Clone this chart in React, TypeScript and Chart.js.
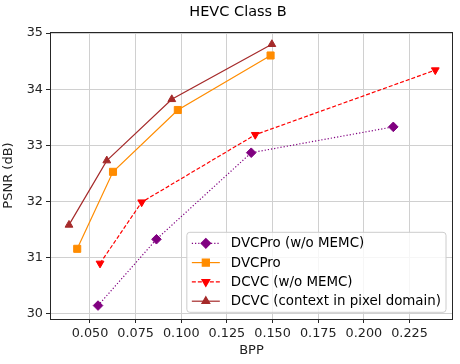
import React, { useEffect, useRef } from "react";
import { Chart, registerables } from "chart.js";
import { drawPoint } from "chart.js/helpers";

Chart.register(...registerables);

const chartTitle = "HEVC Class B";
const xLabel = "BPP";
const yLabel = "PSNR (dB)";
const xTicks = [0.05, 0.075, 0.1, 0.125, 0.15, 0.175, 0.2, 0.225];
const yTicks = [30, 31, 32, 33, 34, 35];

const seriesNames = [
  "DVCPro (w/o MEMC)",
  "DVCPro",
  "DCVC (w/o MEMC)",
  "DCVC (context in pixel domain)",
];

const dvcProNoMemcBpp = [0.0544, 0.0864, 0.1383, 0.2161];
const dvcProNoMemcPsnr = [30.15, 31.33, 32.87, 33.33];

const dvcProBpp = [0.043, 0.0626, 0.0981, 0.1489];
const dvcProPsnr = [31.16, 32.53, 33.63, 34.6];

const dcvcNoMemcBpp = [0.0555, 0.0783, 0.1405, 0.2391];
const dcvcNoMemcPsnr = [30.9, 31.99, 33.19, 34.34];

const dcvcPixelBpp = [0.0385, 0.0592, 0.0948, 0.1496];
const dcvcPixelPsnr = [31.585, 32.73, 33.82, 34.8];

const FONT = "'DejaVu Sans', sans-serif";

const styles = [
  { color: "#800080", dash: [1.2, 2], pointStyle: "rectRot", radius: 4.8, rotation: 0 },
  { color: "#ff8c00", dash: [], pointStyle: "rect", radius: 5, rotation: 0 },
  { color: "#ff0000", dash: [4, 2], pointStyle: "triangle", radius: 4.5, rotation: 180 },
  { color: "#a52a2a", dash: [], pointStyle: "triangle", radius: 4.5, rotation: 0 },
];

const seriesX = [dvcProNoMemcBpp, dvcProBpp, dcvcNoMemcBpp, dcvcPixelBpp];
const seriesY = [dvcProNoMemcPsnr, dvcProPsnr, dcvcNoMemcPsnr, dcvcPixelPsnr];

const LEGEND_FONT = `13.4px ${FONT}`;

const overlayPlugin = {
  id: "overlay",
  afterDraw(chart: any) {
    const { ctx, chartArea: a } = chart;
    ctx.save();
    // frame
    ctx.strokeStyle = "#262626";
    ctx.lineWidth = 1;
    ctx.setLineDash([]);
    ctx.strokeRect(Math.round(a.left) + 0.5, Math.round(a.top) + 0.5, Math.round(a.right - a.left) - 1, Math.round(a.bottom - a.top));

    // title
    ctx.fillStyle = "#000";
    ctx.font = `14.5px ${FONT}`;
    ctx.textAlign = "center";
    ctx.textBaseline = "alphabetic";
    ctx.fillText(chartTitle, 238, 15.5);

    // legend
    ctx.font = LEGEND_FONT;
    let maxW = 0;
    seriesNames.forEach((n) => {
      maxW = Math.max(maxW, ctx.measureText(n).width);
    });
    const rowH = 19.3;
    const boxW = 44 + maxW + 5;
    const boxH = 80;
    const bx = a.right - 7 - boxW;
    const by = a.bottom - 6.7 - boxH;
    ctx.beginPath();
    const r = 3;
    ctx.moveTo(bx + r, by);
    ctx.lineTo(bx + boxW - r, by);
    ctx.quadraticCurveTo(bx + boxW, by, bx + boxW, by + r);
    ctx.lineTo(bx + boxW, by + boxH - r);
    ctx.quadraticCurveTo(bx + boxW, by + boxH, bx + boxW - r, by + boxH);
    ctx.lineTo(bx + r, by + boxH);
    ctx.quadraticCurveTo(bx, by + boxH, bx, by + boxH - r);
    ctx.lineTo(bx, by + r);
    ctx.quadraticCurveTo(bx, by, bx + r, by);
    ctx.closePath();
    ctx.fillStyle = "rgba(255,255,255,0.8)";
    ctx.fill();
    ctx.strokeStyle = "#cccccc";
    ctx.lineWidth = 1;
    ctx.stroke();

    seriesNames.forEach((name, i) => {
      const s = styles[i];
      const y = by + 11 + i * rowH;
      ctx.strokeStyle = s.color;
      ctx.fillStyle = s.color;
      ctx.lineWidth = 1.2;
      ctx.setLineDash(s.dash);
      ctx.beginPath();
      ctx.moveTo(bx + 5, y);
      ctx.lineTo(bx + 33, y);
      ctx.stroke();
      ctx.setLineDash([]);
      drawPoint(ctx, { pointStyle: s.pointStyle, rotation: s.rotation, radius: s.radius, borderWidth: 1 } as any, bx + 19, y);
      ctx.fillStyle = "#000";
      ctx.font = LEGEND_FONT;
      ctx.textAlign = "left";
      ctx.textBaseline = "middle";
      ctx.fillText(name, bx + 44, y + 0.5);
    });
    ctx.restore();
  },
};

export default function App() {
  const ref = useRef<HTMLCanvasElement | null>(null);
  useEffect(() => {
    if (!ref.current) return;
    const datasets = seriesNames.map((name, i) => ({
      label: name,
      data: seriesX[i].map((x, j) => ({ x, y: seriesY[i][j] })),
      borderColor: styles[i].color,
      backgroundColor: styles[i].color,
      borderWidth: 1.2,
      borderDash: styles[i].dash,
      pointStyle: styles[i].pointStyle as any,
      pointRadius: styles[i].radius,
      pointRotation: styles[i].rotation,
      pointBorderWidth: 1,
      tension: 0,
      fill: false,
      order: 4 - i,
    }));
    const chart = new Chart(ref.current, {
      type: "line",
      data: { datasets },
      plugins: [overlayPlugin],
      options: {
        animation: false,
        responsive: false,
        devicePixelRatio: 1,
        layout: { padding: { top: 32, right: 7, left: 0, bottom: 0 } },
        plugins: { legend: { display: false }, title: { display: false }, tooltip: { enabled: false } },
        scales: {
          x: {
            type: "linear",
            min: 0.0281,
            max: 0.2488,
            afterBuildTicks: (s: any) => {
              s.ticks = xTicks.map((v) => ({ value: v }));
            },
            afterFit: (s: any) => {
              s.height = 45;
            },
            ticks: {
              callback: (v: any) => Number(v).toFixed(3),
              font: { family: FONT, size: 12.8 },
              color: "#222",
              padding: 3,
              maxRotation: 0,
              autoSkip: false,
            },
            grid: { color: "#d0d0d0", lineWidth: 1, tickLength: 4, tickColor: "#262626", drawTicks: true },
            border: { display: false },
            title: { display: true, text: xLabel, font: { family: FONT, size: 13 }, color: "#222", padding: { top: 0, bottom: 6 } },
          },
          y: {
            type: "linear",
            min: 29.911,
            max: 35.018,
            afterBuildTicks: (s: any) => {
              s.ticks = yTicks.map((v) => ({ value: v }));
            },
            afterFit: (s: any) => {
              s.width = 50;
            },
            ticks: {
              callback: (v: any) => String(v),
              font: { family: FONT, size: 12.8 },
              color: "#222",
              padding: 3,
              autoSkip: false,
            },
            grid: { color: "#d0d0d0", lineWidth: 1, tickLength: 4, tickColor: "#262626", drawTicks: true },
            border: { display: false },
            title: { display: true, text: yLabel, font: { family: FONT, size: 13 }, color: "#222", padding: { top: 1, bottom: 0 } },
          },
        },
      },
    });
    return () => chart.destroy();
  }, []);
  return (
    <div style={{ position: "absolute", left: 0, top: 0, width: 460, height: 364 }}>
      <canvas ref={ref} width={460} height={364} style={{ display: "block" }} />
    </div>
  );
}
